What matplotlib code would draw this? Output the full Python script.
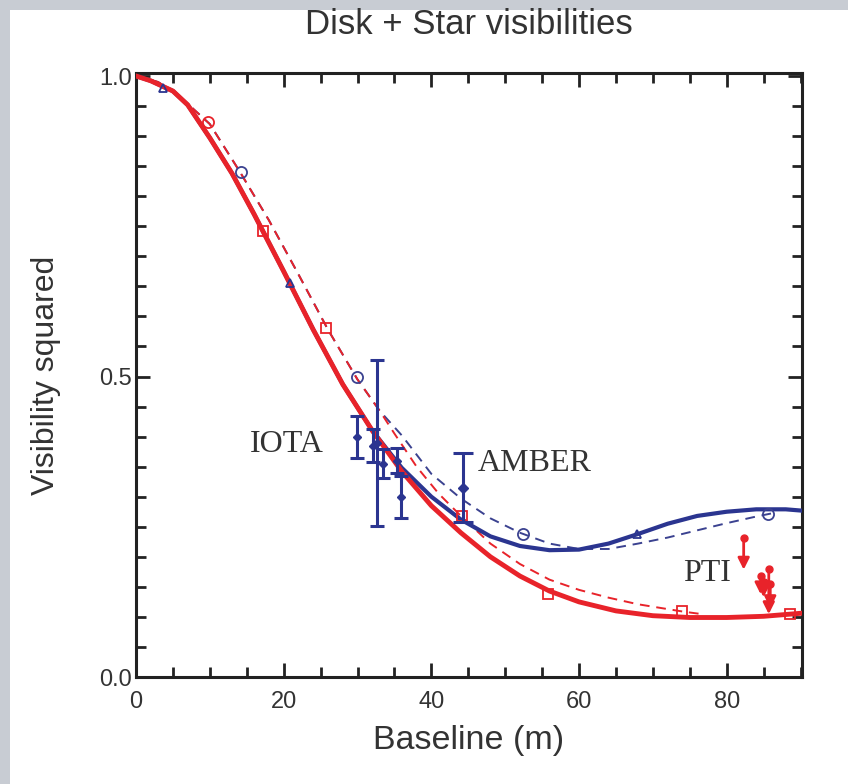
import matplotlib
matplotlib.use("Agg")
import matplotlib.pyplot as plt
from matplotlib.patches import Rectangle
from matplotlib.ticker import MultipleLocator

# model curves (baseline in m, squared visibility)
red_x = [0, 2, 5, 7, 10, 13, 16, 20, 24, 28, 32, 36, 40, 44, 48, 52, 56, 60, 65, 70, 75, 80, 85, 90]
red_y = [1.0, 0.992, 0.975, 0.952, 0.897, 0.838, 0.77, 0.675, 0.578, 0.487, 0.41, 0.342, 0.285,
         0.24, 0.2, 0.168, 0.143, 0.125, 0.11, 0.102, 0.099, 0.099, 0.101, 0.106]

blue_x = [0, 2, 5, 7, 10, 13, 16, 20, 24, 28, 32, 36, 40, 44, 48, 52, 56, 60, 64, 68, 72, 76, 80, 84, 88, 90]
blue_y = [1.0, 0.992, 0.975, 0.952, 0.897, 0.838, 0.77, 0.675, 0.578, 0.487, 0.41, 0.348, 0.3,
          0.262, 0.234, 0.218, 0.211, 0.212, 0.222, 0.238, 0.255, 0.268, 0.275, 0.279, 0.279, 0.277]

red_dash_x = [0, 3, 6, 10, 14, 18, 22, 26, 30, 33, 35, 38, 41, 44, 48, 52, 56, 60, 64, 68, 72, 74, 77]
red_dash_y = [1.0, 0.99, 0.965, 0.92, 0.842, 0.76, 0.67, 0.578, 0.495, 0.443, 0.405, 0.35, 0.305,
              0.268, 0.222, 0.188, 0.162, 0.145, 0.132, 0.121, 0.113, 0.109, 0.104]

blue_dash_x = [0, 3, 6, 10, 14, 18, 22, 26, 30, 33, 36, 40, 44, 48, 52, 56, 60, 64, 68, 72, 76, 80, 84, 86]
blue_dash_y = [1.0, 0.99, 0.965, 0.92, 0.842, 0.76, 0.67, 0.578, 0.495, 0.443, 0.402, 0.338, 0.297,
               0.264, 0.24, 0.222, 0.213, 0.213, 0.222, 0.232, 0.244, 0.256, 0.267, 0.272]

# small open symbols sitting on the curves
red_sq_x = [17.2, 25.8, 44.2, 55.8, 73.9, 88.6]
red_sq_y = [0.742, 0.58, 0.268, 0.138, 0.11, 0.105]
red_circ_x = [9.8]
red_circ_y = [0.923]
blue_circ_x = [14.2, 29.9, 52.4, 85.6]
blue_circ_y = [0.84, 0.50, 0.238, 0.272]
blue_tri_x = [3.6, 20.8, 67.8]
blue_tri_y = [0.98, 0.655, 0.238]

# measurements
iota_x = [29.9, 32.1, 32.6, 33.4, 35.4, 35.9]
iota_y = [0.40, 0.385, 0.39, 0.355, 0.36, 0.30]
iota_err = [0.035, 0.027, 0.138, 0.024, 0.021, 0.035]
amber_x = [44.3]
amber_y = [0.315]
amber_err = [0.057]
pti_x = [82.3, 84.6, 85.0, 85.7, 85.9]
pti_y = [0.232, 0.168, 0.158, 0.18, 0.155]
pti_len = [0.058, 0.035, 0.03, 0.08, 0.045]

RED = "#e8232a"
BLUE = "#2b3590"
BLUE_D = "#3b4290"

fig = plt.figure(figsize=(8.48, 7.84), dpi=100)
fig.patch.set_facecolor("#c8ccd3")
fig.add_artist(Rectangle((10 / 848, 0), 1, 1 - 10 / 784, transform=fig.transFigure,
                         facecolor="white", edgecolor="none", zorder=-5))

ax = fig.add_axes([136 / 848, 107 / 784, 666 / 848, 604 / 784])
ax.set_xlim(0, 90.2)
ax.set_ylim(0, 1.005)

ax.plot(blue_dash_x, blue_dash_y, color=BLUE_D, lw=1.4, ls=(0, (5, 3.5)), zorder=2)
ax.plot(red_dash_x, red_dash_y, color=RED, lw=1.4, ls=(0, (5, 3.5)), zorder=2)
ax.plot(blue_x, blue_y, color=BLUE, lw=3, zorder=3)
ax.plot(red_x, red_y, color=RED, lw=3.5, zorder=4)

ax.plot(red_sq_x, red_sq_y, "s", mfc="none", mec=RED, ms=7, mew=1.3, zorder=5)
ax.plot(red_circ_x, red_circ_y, "o", mfc="none", mec=RED, ms=8, mew=1.3, zorder=5)
ax.plot(blue_circ_x, blue_circ_y, "o", mfc="none", mec=BLUE_D, ms=8, mew=1.3, zorder=5)
ax.plot(blue_tri_x, blue_tri_y, "^", mfc="none", mec=BLUE, ms=6, mew=1.3, zorder=5)

ax.errorbar(iota_x, iota_y, yerr=iota_err, fmt="D", color=BLUE, ms=4, elinewidth=2.2,
            capsize=5, capthick=2.2, zorder=6)
ax.errorbar(amber_x, amber_y, yerr=amber_err, fmt="D", color=BLUE, ms=5, elinewidth=2.2,
            capsize=7, capthick=2.2, zorder=6)

ax.plot(pti_x, pti_y, "o", color=RED, ms=5, zorder=6)
for x, y, d in zip(pti_x, pti_y, pti_len):
    ax.annotate("", xy=(x, y - d), xytext=(x, y),
                arrowprops=dict(arrowstyle="-|>", color=RED, lw=2, mutation_scale=17), zorder=6)

serif = ["Liberation Serif", "DejaVu Serif"]
ax.text(15.4, 0.387, "IOTA", family=serif, fontsize=23, color="#333333", va="center")
ax.text(46.3, 0.355, "AMBER", family=serif, fontsize=23, color="#333333", va="center")
ax.text(74.1, 0.172, "PTI", family=serif, fontsize=23, color="#333333", va="center")

ax.xaxis.set_major_locator(MultipleLocator(20))
ax.xaxis.set_minor_locator(MultipleLocator(5))
ax.yaxis.set_major_locator(MultipleLocator(0.5))
ax.yaxis.set_minor_locator(MultipleLocator(0.05))
ax.tick_params(which="both", direction="in", top=True, right=True, width=2, color="#222222")
ax.tick_params(which="major", length=10)
ax.tick_params(which="minor", length=7)
ax.tick_params(axis="x", pad=10)
ax.tick_params(axis="y", pad=3)
for s in ax.spines.values():
    s.set_linewidth(2.2)
    s.set_color("#222222")

sans = ["Liberation Sans", "DejaVu Sans"]
ax.set_yticks([0.0, 0.5, 1.0])
ax.set_yticklabels(["0.0", "0.5", "1.0"])
for lab in ax.get_xticklabels() + ax.get_yticklabels():
    lab.set_family(sans)
    lab.set_fontsize(17)
    lab.set_color("#333333")

fig.text(469 / 848, 1 - 25 / 784, "Disk + Star visibilities", family=sans, fontsize=25,
         color="#333333", ha="center", va="center")
fig.text(469 / 848, 1 - 741 / 784, "Baseline (m)", family=sans, fontsize=24.5,
         color="#333333", ha="center", va="center")
fig.text(46 / 848, 1 - 375 / 784, "Visibility squared", family=sans, fontsize=23,
         color="#333333", ha="center", va="center", rotation=90)

fig.savefig("out.png", dpi=100, facecolor=fig.get_facecolor())
